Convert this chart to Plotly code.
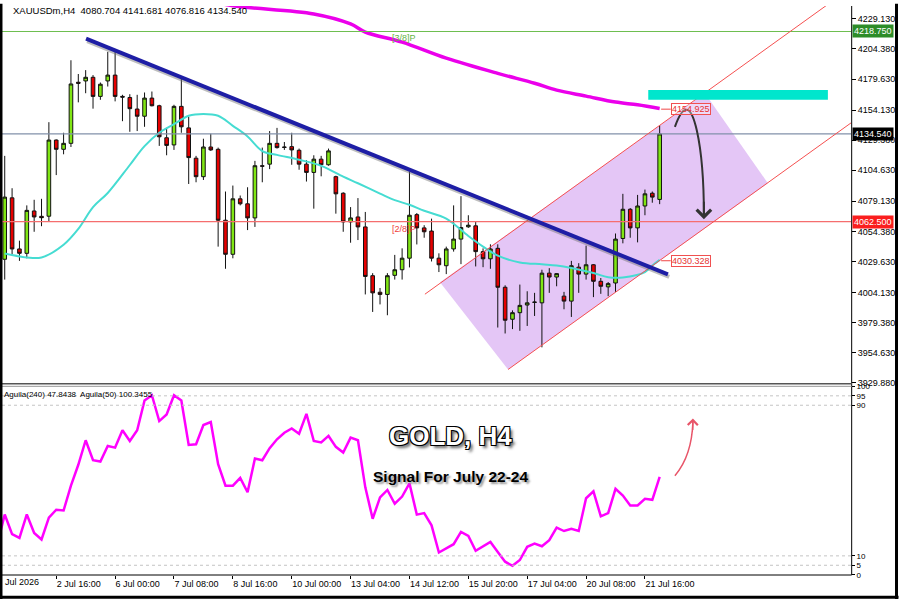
import plotly.graph_objects as go

# XAUUSDm H4 candles, bar index 0..89
opens = [4031.5, 4082.0, 4040.0, 4036.4, 4071.2, 4066.8, 4066.9, 4129.5, 4121.9, 4126.8,
         4177.0, 4178.1, 4181.1, 4165.4, 4178.1, 4182.9, 4165.4, 4164.5, 4155.0, 4149.1,
         4164.0, 4157.7, 4131.4, 4125.5, 4157.2, 4139.5, 4114.6, 4099.4, 4123.8, 4121.9,
         4063.6, 4035.6, 4081.2, 4077.1, 4065.5, 4108.4, 4109.7, 4126.8, 4123.8, 4124.1,
         4121.1, 4109.7, 4102.9, 4113.8, 4109.2, 4099.4, 4085.8, 4062.2, 4066.3, 4058.1,
         4018.0, 4004.4, 4002.6, 4018.3, 4022.9, 4032.4, 4068.2, 4057.3, 4054.7, 4032.4,
         4026.2, 4040.0, 4048.1, 4058.2, 4059.0, 4037.8, 4031.9, 4040.5, 4008.5, 3982.2,
         3987.6, 3993.9, 3996.0, 3995.7, 4020.1, 4016.9, 4001.2, 3997.1, 4025.0, 4019.3,
         4027.0, 4013.4, 4008.8, 4012.0, 4048.6, 4072.6, 4057.3, 4075.3, 4085.8, 4080.704]
highs = [4116.5, 4089.9, 4046.8, 4075.8, 4080.4, 4081.2, 4144.2, 4130.0, 4135.5, 4195.1,
         4183.8, 4187.0, 4182.9, 4176.8, 4202.0, 4202.0, 4166.7, 4167.2, 4166.7, 4168.6,
         4169.4, 4158.5, 4139.5, 4158.5, 4180.3, 4148.5, 4116.5, 4130.6, 4134.7, 4123.3,
         4087.2, 4092.1, 4083.9, 4090.7, 4112.4, 4123.3, 4136.9, 4139.5, 4127.9, 4135.5,
         4122.5, 4112.9, 4117.0, 4116.5, 4122.5, 4100.2, 4086.6, 4074.4, 4081.8, 4070.4,
         4020.1, 4007.9, 4020.1, 4035.1, 4040.5, 4103.5, 4069.5, 4059.5, 4064.9, 4036.4,
         4041.9, 4075.8, 4083.4, 4067.7, 4062.8, 4040.5, 4043.8, 4043.8, 4010.1, 3989.5,
         4010.7, 4005.2, 4003.9, 4022.9, 4024.2, 4020.1, 4004.7, 4030.2, 4028.3, 4042.7,
         4027.5, 4016.1, 4012.8, 4052.7, 4085.3, 4073.6, 4084.4, 4088.8, 4087.2, 4141.681]
lows = [4014.8, 4035.6, 4030.2, 4032.3, 4054.1, 4058.7, 4062.2, 4100.7, 4117.8, 4123.8,
        4160.5, 4168.0, 4155.3, 4162.6, 4173.5, 4161.3, 4145.0, 4136.3, 4136.9, 4140.4,
        4157.2, 4124.7, 4117.0, 4121.4, 4135.5, 4093.4, 4094.8, 4096.7, 4120.6, 4041.9,
        4023.7, 4032.3, 4075.8, 4055.5, 4058.1, 4094.8, 4105.6, 4122.5, 4121.4, 4109.2,
        4105.1, 4095.4, 4073.1, 4099.7, 4108.4, 4069.0, 4054.1, 4045.1, 4047.3, 4002.6,
        3988.2, 3994.4, 3985.5, 4014.8, 4014.8, 4024.8, 4043.7, 4049.2, 4029.7, 4021.0,
        4019.3, 4037.8, 4027.5, 4057.3, 4025.6, 4025.0, 4023.7, 3975.4, 3970.5, 3974.1,
        3972.7, 3976.7, 3984.9, 3959.1, 4003.9, 4009.3, 3990.4, 3984.1, 4003.9, 4014.8,
        4000.4, 4003.1, 4001.2, 4004.7, 4044.6, 4049.2, 4045.4, 4067.7, 4078.0, 4076.816]
closes = [4082.6, 4040.0, 4036.4, 4071.7, 4066.3, 4065.7, 4129.5, 4121.9, 4126.8, 4175.6,
          4176.2, 4181.1, 4165.4, 4175.4, 4182.9, 4165.4, 4164.8, 4155.3, 4149.1, 4164.0,
          4157.7, 4132.2, 4125.1, 4157.2, 4140.4, 4115.1, 4099.4, 4123.8, 4121.4, 4063.6,
          4035.6, 4081.2, 4077.1, 4065.5, 4108.4, 4108.0, 4126.8, 4123.3, 4123.5, 4121.4,
          4109.7, 4102.9, 4113.8, 4109.2, 4120.6, 4085.3, 4062.2, 4065.5, 4058.1, 4017.4,
          4003.9, 4002.6, 4018.0, 4022.9, 4032.4, 4067.7, 4057.3, 4054.1, 4032.4, 4027.0,
          4040.0, 4048.1, 4057.6, 4059.5, 4037.8, 4031.9, 4040.0, 4008.5, 3981.4, 3987.6,
          3993.6, 3995.7, 3996.3, 4020.1, 4016.9, 4019.7, 3997.1, 4026.2, 4019.3, 4027.0,
          4013.4, 4009.3, 4011.5, 4048.1, 4072.6, 4057.3, 4075.3, 4085.3, 4082.6, 4134.540]

# moving averages (read at some bars)
ma_idx = [0, 3, 5, 8, 10, 12, 14, 17, 19, 21, 23, 25, 27, 29, 31, 33, 35, 37, 40, 43,
          46, 48, 51, 53, 55, 57, 60, 63, 65, 67, 70, 73, 75, 77, 80, 82, 84, 87, 88, 89]
ma_val = [4036.2, 4033.0, 4033.0, 4043.5, 4056.5, 4074.4, 4086.0, 4109.0, 4124.5, 4135.5,
          4142.5, 4149.5, 4151.0, 4149.5, 4141.2, 4132.5, 4120.5, 4117.3, 4113.3, 4108.3,
          4099.4, 4094.0, 4085.5, 4080.1, 4076.3, 4071.4, 4065.0, 4050.6, 4041.9, 4034.5,
          4028.9, 4027.4, 4026.4, 4024.4, 4020.2, 4016.8, 4016.6, 4021.0, 4026.4, 4031.0]
ma200_idx = [27, 31, 42, 47, 49, 54, 60, 67, 72, 75, 79, 83, 86, 89]
ma200_val = [4245.0, 4239.9, 4233.2, 4225.0, 4218.3, 4210.0, 4196.8, 4184.3, 4176.2,
             4170.5, 4165.6, 4160.7, 4158.5, 4155.5]

# Aguila oscillator, bars -1..89
aguila = [16, 32.0, 21.5, 19.5, 32.0, 22.2, 18.7, 30.3, 34.5, 34.1, 47.3,
          58.4, 71.4, 60.8, 60.1, 68.4, 67.5, 76.7, 71.0, 76.7, 92.5,
          95.3, 81.6, 85.1, 95.3, 92.5, 68.9, 69.3, 79.5, 81.1, 58.7,
          47.3, 47.3, 51.4, 43.8, 61.7, 60.8, 67.2, 71.9, 75.4, 77.7,
          74.9, 85.4, 71.0, 70.2, 73.7, 67.9, 64.9, 72.8, 71.4, 46.4,
          29.7, 41.1, 45.0, 37.7, 41.5, 48.5, 31.9, 32.7, 26.2, 11.8,
          14.2, 16.2, 22.7, 20.6, 12.7, 15.1, 17.4, 12.1, 6.9, 4.7,
          7.8, 14.8, 16.5, 15.1, 18.3, 25.0, 23.2, 24.4, 23.2, 40.6,
          44.3, 31.0, 32.7, 45.6, 42.0, 36.8, 36.8, 40.3, 39.8, 52.0]
aguila_idx = list(range(-1, len(aguila) - 1))

tick_idx = [7, 15, 23, 31, 39, 47, 55, 63, 71, 79, 87]
tick_text = ["2 Jul 16:00", "6 Jul 00:00", "7 Jul 08:00", "8 Jul 16:00", "10 Jul 00:00",
             "13 Jul 04:00", "14 Jul 12:00", "15 Jul 20:00", "17 Jul 04:00",
             "20 Jul 08:00", "21 Jul 16:00"]
price_ticks = [4229.13, 4204.38, 4179.63, 4154.13, 4129.38, 4104.63, 4079.13,
               4054.38, 4029.63, 4004.13, 3979.38, 3954.63, 3929.88]
osc_ticks = [0, 5, 10, 90, 95, 100]

level_38 = 4218.75
level_28 = 4062.5
bid = 4134.54

FONT = "Liberation Sans"
XR = [-0.37, 115.0]

fig = go.Figure()

fig.add_trace(go.Candlestick(
    x=list(range(len(opens))), open=opens, high=highs, low=lows, close=closes,
    increasing=dict(fillcolor="rgb(128,230,20)", line=dict(color="#111", width=1)),
    decreasing=dict(fillcolor="rgb(230,0,0)", line=dict(color="#111", width=1)),
    whiskerwidth=0, showlegend=False, hoverinfo="skip",
))
fig.add_trace(go.Scatter(x=ma_idx, y=ma_val, mode="lines", showlegend=False,
                         line=dict(color="rgb(70,220,210)", width=2, shape="spline")))
fig.add_trace(go.Scatter(x=ma200_idx, y=ma200_val, mode="lines", showlegend=False,
                         line=dict(color="rgb(235,0,235)", width=3.5, shape="spline")))
fig.add_trace(go.Scatter(x=aguila_idx, y=aguila, mode="lines", showlegend=False,
                         xaxis="x2", yaxis="y2",
                         line=dict(color="rgb(255,0,255)", width=2.5)))

shapes = []
# purple box along the channel
shapes.append(dict(type="path", xref="x", yref="y", layer="below",
                   path="M 59.15,4012.6 L 95.15,4168.0 L 103.71,4094.0 L 68.4,3940.9 Z",
                   fillcolor="rgb(228,198,246)", line=dict(width=0)))
# horizontal levels
for yv, col in [(level_38, "rgb(110,190,80)"), (bid, "rgb(130,145,170)"),
                (level_28, "rgb(245,110,110)")]:
    shapes.append(dict(type="line", xref="paper", yref="y", x0=0, x1=1, y0=yv, y1=yv,
                       line=dict(color=col, width=1.2)))
# channel lines
shapes.append(dict(type="line", xref="x", yref="y", x0=57.1, y0=4002.8, x1=115, y1=4254.7,
                   line=dict(color="rgb(245,80,80)", width=1)))
shapes.append(dict(type="line", xref="x", yref="y", x0=68.4, y0=3940.9, x1=115, y1=4143.6,
                   line=dict(color="rgb(245,80,80)", width=1)))
# cyan target zone
shapes.append(dict(type="rect", xref="x", yref="y", x0=87.45, x1=111.86, y0=4162.6, y1=4170.7,
                   fillcolor="rgb(0,230,205)", line=dict(width=0)))
# trend line with its shadow
shapes.append(dict(type="line", xref="x", yref="y", x0=11.2, y0=4210.8, x1=90.3, y1=4017.1,
                   line=dict(color="rgba(110,110,110,0.45)", width=4)))
shapes.append(dict(type="line", xref="x", yref="y", x0=11.05, y0=4212.8, x1=90.12, y1=4019.1,
                   line=dict(color="rgb(30,30,165)", width=4)))
# label connectors
shapes.append(dict(type="line", xref="x", yref="y", x0=89.2, x1=90.5, y0=4154.9, y1=4154.9,
                   line=dict(color="rgb(240,70,70)", width=1)))
shapes.append(dict(type="line", xref="x", yref="y", x0=89.2, x1=90.5, y0=4030.3, y1=4030.3,
                   line=dict(color="rgb(240,70,70)", width=1)))
# curved black arrow
shapes.append(dict(type="path", xref="x", yref="y",
                   path="M 91.07,4140.4 Q 92.84,4170.0 94.06,4137.1 Q 95.01,4111.1 95.01,4068",
                   line=dict(color="#333", width=2)))
# oscillator levels
for yv in [95, 90, 10, 5]:
    shapes.append(dict(type="line", xref="paper", yref="y2", x0=0, x1=1, y0=yv, y1=yv,
                       line=dict(color="#c4c4c4", width=1, dash="dot")))
# pink curved arrow
shapes.append(dict(type="path", xref="x2", yref="y2",
                   path="M 91.07,52.6 Q 93.38,63.1 93.52,81.5",
                   line=dict(color="rgb(232,85,105)", width=1.5)))
# frame lines
shapes += [
    dict(type="line", xref="paper", yref="paper", x0=1.0008, x1=1.0008, y0=0, y1=1,
         line=dict(color="black", width=1)),
    dict(type="line", xref="paper", yref="paper", x0=0, x1=1.0008, y0=0, y1=0,
         line=dict(color="black", width=1)),
    dict(type="line", xref="paper", yref="paper", x0=0, x1=1.0008, y0=0.3359, y1=0.3359,
         line=dict(color="#555", width=1.5)),
    dict(type="line", xref="paper", yref="paper", x0=0, x1=1.0008, y0=0.3316, y1=0.3316,
         line=dict(color="#999", width=1)),
    dict(type="line", xref="paper", yref="paper", x0=-0.0012, x1=-0.0012, y0=-0.042, y1=1.004,
         line=dict(color="black", width=3)),
    dict(type="line", xref="paper", yref="paper", x0=1.0536, x1=1.0536, y0=-0.042, y1=1.004,
         line=dict(color="black", width=3)),
    dict(type="line", xref="paper", yref="paper", x0=-0.003, x1=1.056, y0=-0.0393, y1=-0.0393,
         line=dict(color="black", width=3)),
]

ann = []
ann.append(dict(xref="paper", yref="paper", x=0.0102, y=0.9913, xanchor="left",
                yanchor="middle", showarrow=False,
                text="XAUUSDm,H4  4080.704 4141.681 4076.816 4134.540",
                font=dict(family=FONT, size=9.5, color="black")))
ann.append(dict(xref="paper", yref="paper", x=0.0, y=0.3171, xanchor="left",
                yanchor="middle", showarrow=False,
                text="Aguila(240) 47.8438  Aguila(50) 100.3455",
                font=dict(family=FONT, size=8, color="black")))
ann.append(dict(xref="paper", yref="paper", x=0.0012, y=-0.0122, xanchor="left",
                yanchor="middle", showarrow=False, text="Jul 2026",
                font=dict(family=FONT, size=9, color="black")))
ann.append(dict(xref="x", yref="y", x=52.3, y=level_38, xanchor="left", yanchor="top",
                showarrow=False, text="[3/8]P",
                font=dict(family=FONT, size=9, color="rgb(100,180,70)")))
ann.append(dict(xref="x", yref="y", x=52.3, y=level_28, xanchor="left", yanchor="top",
                showarrow=False, text="[2/8]P",
                font=dict(family=FONT, size=9, color="rgb(240,60,60)")))
for txt, yv in [("4154.925", 4154.9), ("4030.328", 4030.3)]:
    ann.append(dict(xref="x", yref="y", x=90.5, y=yv, xanchor="left", yanchor="middle",
                    showarrow=False, text=txt, bgcolor="rgba(255,255,255,0.35)",
                    bordercolor="rgb(240,80,80)", borderwidth=1, borderpad=0,
                    font=dict(family=FONT, size=9, color="rgb(230,50,50)")))
for txt, yv, bg in [("4218.750", level_38, "rgb(45,140,40)"),
                    ("4134.540", bid, "black"),
                    ("4062.500", level_28, "rgb(250,30,30)")]:
    ann.append(dict(xref="paper", yref="y", x=1.0012, y=yv, xanchor="left",
                    yanchor="middle", showarrow=False, text=txt, bgcolor=bg, borderpad=1,
                    font=dict(family=FONT, size=9, color="white")))
# arrow heads
ann.append(dict(xref="x", yref="y", axref="x", ayref="y", x=95.01, y=4064.5,
                ax=95.01, ay=4080, text="", showarrow=True, arrowhead=4, arrowsize=1.4,
                arrowwidth=2, arrowcolor="#333", standoff=0))
ann.append(dict(xref="x2", yref="y2", axref="x2", ayref="y2", x=93.52, y=83.0,
                ax=93.48, ay=76, text="", showarrow=True, arrowhead=4, arrowsize=1.3,
                arrowwidth=1.5, arrowcolor="rgb(232,85,105)", standoff=0))
# titles
ann.append(dict(xref="paper", yref="paper", x=0.5277, y=0.2443, xanchor="center",
                yanchor="middle", showarrow=False, text="<b>GOLD, H4</b>",
                font=dict(family=FONT, size=26, color="white",
                          shadow="1px 1px 0 #000, -1px -1px 0 #000, 1px -1px 0 #000, "
                                 "-1px 1px 0 #000, 3px 3px 3px #666")))
ann.append(dict(xref="paper", yref="paper", x=0.5277, y=0.1728, xanchor="center",
                yanchor="middle", showarrow=False, text="<b>Signal For July 22-24</b>",
                font=dict(family=FONT, size=15.5, color="black",
                          shadow="2px 2px 2px #999")))

fig.update_layout(
    width=900, height=599,
    margin=dict(l=2, r=49, t=2, b=24),
    paper_bgcolor="white", plot_bgcolor="white",
    showlegend=False,
    font=dict(family=FONT, size=9, color="black"),
    xaxis=dict(domain=[0, 1], anchor="y", range=XR, showticklabels=False,
               showgrid=False, zeroline=False, ticks="", rangeslider=dict(visible=False)),
    yaxis=dict(domain=[0.3368, 1], anchor="x", side="right", range=[3929.5, 4239.7],
               tickvals=price_ticks, ticktext=[f"{v:.3f}" for v in price_ticks],
               ticks="outside", ticklen=4, tickcolor="black", showgrid=False,
               zeroline=False, tickfont=dict(family=FONT, size=9, color="black")),
    xaxis2=dict(domain=[0, 1], anchor="y2", range=XR, matches="x",
                tickvals=tick_idx, ticktext=tick_text, ticks="outside", ticklen=3,
                tickcolor="black", ticklabelposition="outside right", showgrid=False,
                zeroline=False, tickfont=dict(family=FONT, size=9, color="black")),
    yaxis2=dict(domain=[0, 0.3316], anchor="x2", side="right", range=[-0.16, 100.05],
                tickvals=osc_ticks, ticks="outside", ticklen=3, tickcolor="black",
                showgrid=False, zeroline=False,
                tickfont=dict(family=FONT, size=8, color="black")),
    shapes=shapes,
    annotations=ann,
)

# the page body has a default 8px margin; remove it so the figure sits at the corner
fig.write_html("out.html", config=dict(displayModeBar=False),
               post_script="document.body.style.margin='0';document.body.style.overflow='hidden';")
